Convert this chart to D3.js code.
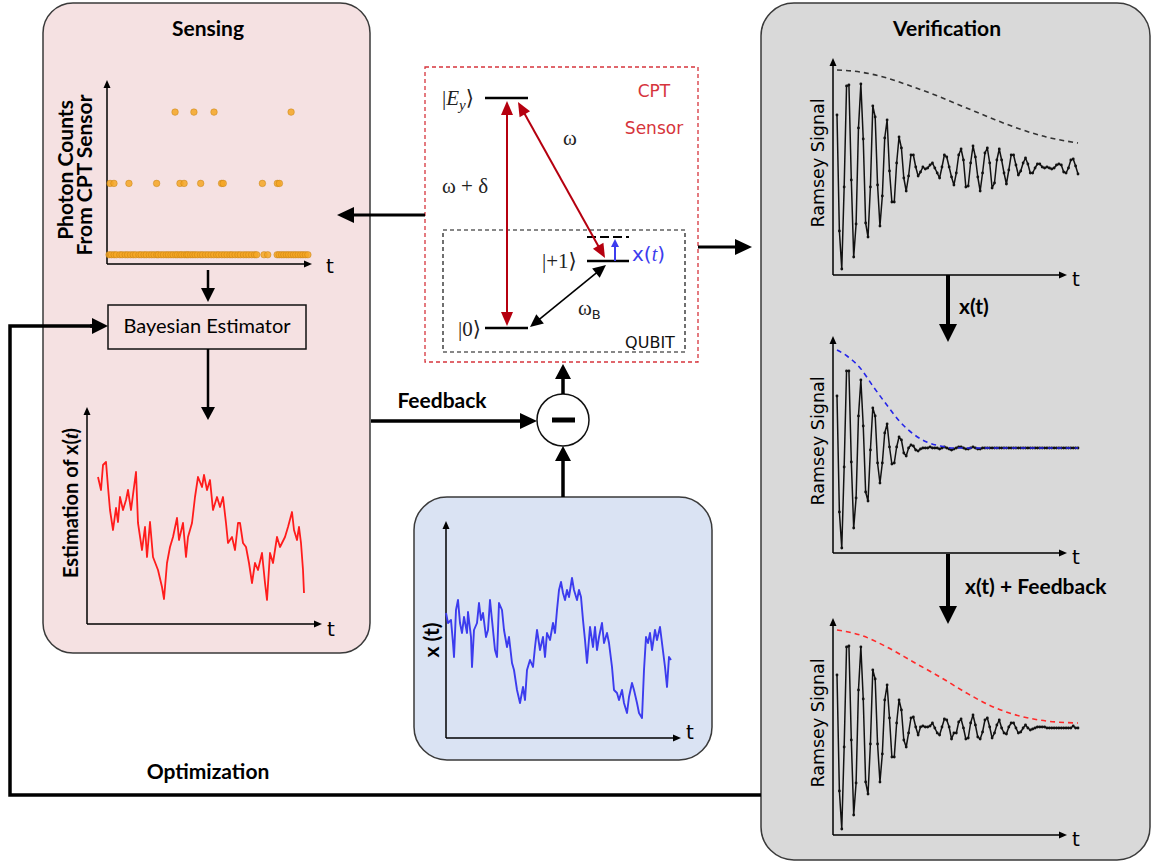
<!DOCTYPE html>
<html>
<head>
<meta charset="utf-8">
<script src="https://cdn.jsdelivr.net/npm/d3@7"></script>
<style>
  body { margin: 0; background: #fff; }
  svg { display: block; }
</style>
</head>
<body>
<svg id="chart" width="1151" height="861"></svg>
<script>
// ---- values ----

// photon arrival times (a.u.), grouped by the count recorded in that bin
const photonTimes0 = [1.0, 2.2, 3.5, 4.6, 6.3, 7.4, 8.9, 10.1, 11.5, 12.8, 14.0, 15.6, 16.7, 18.1, 19.2, 20.6, 21.8,
  23.0, 24.3, 25.1, 26.4, 27.6, 28.9, 30.0, 31.2, 32.3, 33.5, 34.4, 35.6, 36.5, 37.7, 38.8, 39.6, 40.8, 41.9, 43.0,
  44.2, 45.6, 46.7, 48.1, 49.4, 50.8, 52.1, 53.5, 54.6, 56.0, 57.3, 58.6, 60.0, 61.1, 62.5, 63.9, 65.1, 66.6, 67.9,
  69.2, 70.6, 72.0, 73.0, 76.6, 78.4, 83.0, 84.0, 85.2, 86.3, 87.5, 88.6, 89.8, 91.0, 92.1, 93.3, 94.5, 95.6, 96.8, 98.0];
const photonTimes1 = [1.5, 3.4, 10.7, 24.2, 35.6, 37.6, 45.7, 55.9, 56.7, 75.8, 83.1, 84.1];
const photonTimes2 = [33.2, 42.4, 52.2, 89.8];

// Bayesian estimate of x(t) (red trace)
const estimateT = [5.5, 7, 8, 9.5, 10.5, 11.5, 13, 14.5, 15.5, 16.5, 18, 19.5, 20.5, 22, 23.5, 24.5, 25.5, 27.5, 29, 30,
  31.5, 33, 35.5, 37.5, 38.5, 40, 41.5, 43, 45, 46, 48, 49.5, 50.5, 52.5, 54, 55.5, 57.5, 58.5, 60, 61.5, 63, 65, 66.5,
  68, 69.5, 70.5, 72.5, 74, 75.5, 76.5, 78, 79.5, 81, 82.5, 84, 85.5, 87.5, 89, 90, 91.5, 93, 95, 96.5, 99, 100.5,
  102.5, 103.5, 105, 106, 107, 108, 108.5];
const estimateX = [7.35, 6.7, 7.95, 8.1, 6.85, 5.7, 4.7, 5.8, 5.1, 6.35, 5.7, 6.2, 6.7, 5.7, 6.85, 7.6, 5.05, 3.7, 4.85,
  3.35, 5.1, 3.35, 2.7, 1.85, 1.25, 3.05, 3.85, 4.35, 5.3, 4.2, 5.05, 3.35, 4.35, 5.05, 6.35, 7.35, 6.85, 7.45, 6.7,
  7.2, 5.7, 6.35, 5.85, 6.35, 5.05, 4.05, 4.35, 3.7, 5.05, 5.05, 4.05, 3.85, 3.05, 2.05, 3.05, 2.7, 3.55, 2.05, 1.2,
  3.55, 3.05, 4.35, 3.85, 4.35, 4.85, 5.6, 4.7, 4.2, 4.85, 4.05, 2.7, 1.55];

// true drift x(t) (blue trace)
const driftT = [0, 1, 2.5, 3.5, 4, 5, 6, 7, 8, 9, 10.5, 11, 12.5, 13, 14, 15.5, 16.5, 17.5, 18.5, 20, 21, 22, 23, 24.5,
  25.5, 26.5, 28, 29, 30.5, 31.5, 33, 34, 35.5, 37, 38.5, 39.5, 40.5, 42, 43.5, 44.5, 45.5, 47, 48.5, 49.5, 50.5, 52,
  53.5, 54.5, 55.5, 56.5, 57.5, 58.5, 59.5, 60.5, 61.5, 63, 64, 65.5, 66.5, 67.5, 68.5, 69.5, 70.5, 72, 73.5, 74.5,
  75.5, 76.5, 78, 79, 80.5, 81.5, 83, 84, 85.5, 86.5, 88, 89, 90.5, 91.5, 93, 94, 95.5, 96.5, 98, 99, 100, 101, 102,
  103, 104.5, 105.5, 107, 108, 109.5, 110.5, 111.5, 112.5];
const driftX = [6.25, 5.75, 5.9, 4.75, 4.05, 6.4, 6.9, 5.75, 5.25, 6.05, 5.25, 6.3, 5.05, 3.55, 5.4, 5.75, 6.75, 5.9,
  6.25, 5.05, 5.4, 6.9, 5.9, 4.4, 4.05, 6.75, 6.4, 5.4, 4.55, 5.05, 3.75, 3.4, 2.4, 1.75, 2.55, 1.9, 3.4, 3.9, 3.55,
  4.55, 5.4, 4.4, 5.05, 4.05, 5.25, 4.9, 5.75, 5.25, 6.4, 7.4, 7.8, 7.25, 6.9, 7.4, 7.05, 8.0, 7.4, 6.9, 7.4, 7.05,
  5.9, 4.9, 3.75, 5.55, 4.55, 5.55, 4.4, 5.05, 5.75, 4.75, 5.25, 4.75, 3.55, 2.4, 2.25, 1.9, 2.4, 1.75, 1.25, 2.05,
  2.75, 2.4, 1.75, 1.25, 1.0, 3.4, 5.05, 4.75, 5.25, 4.4, 5.4, 4.9, 5.55, 4.75, 3.55, 2.55, 4.05, 3.9];

// Ramsey fringes, one value per equally spaced sample
const ramseyIdeal = [0.53, -0.63, -1.01, -0.19, 0.82, 0.83, -0.12, -0.89, -0.56, 0.40,
  0.84, 0.29, -0.55, -0.69, -0.19, 0.62, 0.51, -0.17, -0.58, -0.28,
  0.30, 0.48, -0.03, -0.34, -0.34, 0.05, 0.31, 0.20, -0.10, -0.23,
  -0.08, 0.13, 0.13, 0.01, -0.08, -0.04, 0.01, -0.01, 0.00, 0.03,
  0.05, 0.00, -0.05, -0.10, 0.01, 0.13, 0.11, 0.01, -0.09, -0.17,
  -0.05, 0.13, 0.19, 0.08, -0.19, -0.18, 0.05, 0.22, 0.11, -0.09,
  -0.23, -0.05, 0.15, 0.20, 0.05, -0.20, -0.15, 0.08, 0.19, 0.08,
  -0.05, -0.16, -0.02, 0.13, 0.13, 0.03, -0.07, -0.03, 0.05, 0.10,
  0.04, -0.05, -0.05, 0.00, 0.04, 0.04, 0.01, 0.00, 0.01, 0.00,
  -0.01, 0.00, 0.03, 0.04, 0.03, -0.04, -0.05, 0.00, 0.08, 0.09,
  0.02, -0.06];
const ramseyNoisy = [0.52, -0.64, -1.00, -0.19, 0.77, 0.77, -0.14, -0.80, -0.50, 0.32,
  0.68, 0.22, -0.44, -0.53, -0.02, 0.40, 0.32, -0.15, -0.35, -0.15,
  0.15, 0.24, 0.01, -0.16, -0.15, 0.01, 0.11, 0.08, -0.05, -0.08,
  0.00, 0.03, 0.02, -0.02, -0.03, -0.01, 0.00, 0.00, 0.00, 0.01,
  0.00, 0.00, 0.00, -0.01, 0.00, 0.01, 0.00, -0.01, -0.02, -0.01,
  0.00, 0.01, 0.01, 0.00, -0.01, -0.01, 0.00, 0.01, 0.00, -0.01,
  -0.01, 0.00, 0.00, 0.00, 0.00, 0.00, 0.00, 0.00, 0.00, 0.00,
  0.00, 0.00, 0.00, 0.00, 0.00, 0.00, 0.00, 0.00, 0.00, 0.00,
  0.00, 0.00, 0.00, 0.00, 0.00, 0.00, 0.00, 0.00, 0.00, 0.00,
  0.00, 0.00, 0.00, 0.00, 0.00, 0.00, 0.00, 0.00, 0.00, 0.00,
  0.00, 0.00];
const ramseyFeedback = [0.53, -0.63, -1.01, -0.19, 0.81, 0.82, -0.12, -0.87, -0.55, 0.38,
  0.81, 0.29, -0.54, -0.66, -0.16, 0.58, 0.49, -0.16, -0.54, -0.26,
  0.28, 0.43, 0.10, -0.29, -0.29, 0.05, 0.28, 0.18, -0.12, -0.19,
  -0.05, 0.10, 0.11, 0.01, -0.07, 0.01, 0.02, 0.01, 0.01, 0.02,
  0.05, 0.00, -0.05, -0.07, 0.01, 0.09, 0.08, 0.01, -0.11, -0.05,
  -0.05, 0.06, 0.09, 0.00, -0.11, -0.10, 0.05, 0.13, 0.03, -0.09,
  -0.11, -0.04, 0.08, 0.10, 0.01, -0.10, -0.05, 0.03, 0.08, 0.00,
  -0.05, -0.06, 0.01, 0.05, 0.05, 0.00, -0.05, -0.04, 0.00, 0.03,
  0.00, -0.02, -0.01, 0.00, 0.01, 0.01, 0.01, 0.01, 0.00, 0.00,
  0.00, 0.00, 0.00, 0.00, 0.00, 0.00, 0.00, 0.00, 0.00, 0.02,
  0.00, 0.00];

// dashed decay envelopes (sample index -> amplitude)
const idealEnvT = [0, 9.7, 20.9, 32, 43.2, 54.3, 65.5, 76.6, 87.7, 101];
const idealEnv = [0.98, 0.96, 0.90, 0.81, 0.71, 0.60, 0.49, 0.39, 0.31, 0.25];
const noisyEnvT = [0, 4.2, 9.7, 15.3, 20.9, 26.5, 32, 37.6, 43.2, 48.7, 54.3, 101];
const noisyEnv = [0.98, 0.92, 0.80, 0.61, 0.43, 0.26, 0.14, 0.06, 0.02, 0.0, 0.0, 0.0];
const feedbackEnvT = [0, 9.7, 20.9, 32, 43.2, 54.3, 65.5, 76.6, 87.7, 101];
const feedbackEnv = [0.98, 0.93, 0.81, 0.66, 0.51, 0.35, 0.21, 0.12, 0.07, 0.05];

// ---- drawing ----
const svg = d3.select('#chart');
const BOLD = "Lato, 'Open Sans', sans-serif";
const MATH = "'Liberation Serif', 'DejaVu Serif', serif";
const PLAIN = "'DejaVu Sans', sans-serif";

// line with a filled triangular head (optionally at both ends)
function arrow(g, [x1, y1], [x2, y2], { width = 3, head = 16, half = 8, color = '#000', both = false } = {}) {
  const len = Math.hypot(x2 - x1, y2 - y1);
  const ux = (x2 - x1) / len, uy = (y2 - y1) / len;
  const sx = both ? x1 + ux * head * 0.8 : x1, sy = both ? y1 + uy * head * 0.8 : y1;
  g.append('line')
    .attr('x1', sx).attr('y1', sy)
    .attr('x2', x2 - ux * head * 0.8).attr('y2', y2 - uy * head * 0.8)
    .attr('stroke', color).attr('stroke-width', width);
  const tri = (tx, ty, vx, vy) =>
    `M${tx},${ty}L${tx - vx * head - vy * half},${ty - vy * head + vx * half}` +
    `L${tx - vx * head + vy * half},${ty - vy * head - vx * half}Z`;
  g.append('path').attr('d', tri(x2, y2, ux, uy)).attr('fill', color);
  if (both) g.append('path').attr('d', tri(x1, y1, -ux, -uy)).attr('fill', color);
}

function axes(g, x, y) {
  const [x0, x1] = x.range(), [y0, y1] = y.range();
  arrow(g, [x0, y0], [x1, y0], { width: 1.5, head: 8, half: 3.5 });
  arrow(g, [x0, y0], [x0, y1], { width: 1.5, head: 8, half: 3.5 });
}

function label(g, x, y, text, { size = 21, family = BOLD, weight = 700, anchor = 'middle', fill = '#000', rotate = 0 } = {}) {
  return g.append('text')
    .attr('transform', `translate(${x},${y})${rotate ? ` rotate(${rotate})` : ''}`)
    .attr('text-anchor', anchor)
    .attr('font-family', family).attr('font-weight', weight).attr('font-size', size)
    .attr('fill', fill)
    .text(text);
}

// panels
const bg = svg.append('g');
bg.append('rect').attr('x', 43).attr('y', 3).attr('width', 327).attr('height', 650).attr('rx', 30)
  .attr('fill', '#f5e1e2').attr('stroke', '#3a3a3a').attr('stroke-width', 1.5);
bg.append('rect').attr('x', 761).attr('y', 3).attr('width', 389).attr('height', 857).attr('rx', 33)
  .attr('fill', '#d9d9d9').attr('stroke', '#3a3a3a').attr('stroke-width', 1.5);
bg.append('rect').attr('x', 414).attr('y', 497).attr('width', 298).attr('height', 263).attr('rx', 33)
  .attr('fill', '#dae3f3').attr('stroke', '#3a3a3a').attr('stroke-width', 1.5);

label(svg, 208, 36, 'Sensing');
label(svg, 947, 36, 'Verification');

// -- photon counts scatter
const photon = svg.append('g');
const px = d3.scaleLinear().domain([0, 100]).range([107, 312]);
const py = d3.scaleLinear().domain([-0.13, 2.45]).range([264, 80]);
axes(photon, px, py);
const photonPts = [
  ...photonTimes0.map((t) => [t, 0]),
  ...photonTimes1.map((t) => [t, 1]),
  ...photonTimes2.map((t) => [t, 2]),
];
photon.selectAll('circle').data(photonPts).join('circle')
  .attr('cx', (d) => px(d[0])).attr('cy', (d) => py(d[1])).attr('r', 3.3)
  .attr('fill', '#f5a623').attr('fill-opacity', 0.85)
  .attr('stroke', '#b87406').attr('stroke-opacity', 0.55).attr('stroke-width', 0.7);
label(photon, 73, 170, 'Photon Counts', { rotate: -90 });
label(photon, 92, 175, 'From CPT Sensor', { rotate: -90 });
label(photon, 326, 273, 't', { family: PLAIN, weight: 400, size: 20, anchor: 'start' });

// -- Bayesian estimator
arrow(svg, [208, 270], [208, 302], { width: 2.5, head: 14, half: 7 });
svg.append('rect').attr('x', 108).attr('y', 305).attr('width', 198).attr('height', 44)
  .attr('fill', 'none').attr('stroke', '#111').attr('stroke-width', 1.5);
label(svg, 207, 333, 'Bayesian Estimator', { weight: 400, size: 20 });
arrow(svg, [208, 349], [208, 420], { width: 2.5, head: 13, half: 7 });

// -- estimation of x(t)
const est = svg.append('g');
const ex = d3.scaleLinear().domain([0, 117.5]).range([87, 322]);
const ey = d3.scaleLinear().domain([0, 10.85]).range([624, 407]);
axes(est, ex, ey);
est.append('path').datum(d3.zip(estimateT, estimateX))
  .attr('fill', 'none').attr('stroke', '#ff1c1c').attr('stroke-width', 1.8).attr('stroke-linejoin', 'round')
  .attr('d', d3.line().x((d) => ex(d[0])).y((d) => ey(d[1])));
const estLabel = label(est, 78, 503, 'Estimation of x(', { rotate: -90, size: 20 });
estLabel.append('tspan').attr('font-family', MATH).attr('font-style', 'italic').text('t');
estLabel.append('tspan').text(')');
label(est, 327, 636, 't', { family: PLAIN, weight: 400, size: 20, anchor: 'start' });

// -- true drift x(t)
const drift = svg.append('g');
const dx = d3.scaleLinear().domain([0, 117.5]).range([446, 681]);
const dy = d3.scaleLinear().domain([0, 10.85]).range([738, 521]);
axes(drift, dx, dy);
drift.append('path').datum(d3.zip(driftT, driftX))
  .attr('fill', 'none').attr('stroke', '#3c3cee').attr('stroke-width', 1.9).attr('stroke-linejoin', 'round')
  .attr('d', d3.line().x((d) => dx(d[0])).y((d) => dy(d[1])));
label(drift, 439, 640, 'x (t)', { rotate: -90, size: 21 });
label(drift, 686, 739, 't', { family: PLAIN, weight: 400, size: 20, anchor: 'start' });

// -- CPT sensor level scheme
const cpt = svg.append('g');
cpt.append('rect').attr('x', 425).attr('y', 67).attr('width', 273).attr('height', 295)
  .attr('fill', 'none').attr('stroke', '#d6343c').attr('stroke-width', 1.3).attr('stroke-dasharray', '4,3');
cpt.append('rect').attr('x', 443).attr('y', 230).attr('width', 242).attr('height', 122)
  .attr('fill', 'none').attr('stroke', '#111').attr('stroke-width', 1.2).attr('stroke-dasharray', '4,3');
[[485, 528, 98], [485, 528, 328], [587, 629, 261]].forEach(([a, b, y]) =>
  cpt.append('line').attr('x1', a).attr('x2', b).attr('y1', y).attr('y2', y)
    .attr('stroke', '#000').attr('stroke-width', 2.5));
cpt.append('line').attr('x1', 587).attr('x2', 629).attr('y1', 237).attr('y2', 237)
  .attr('stroke', '#000').attr('stroke-width', 2).attr('stroke-dasharray', '9,4');
arrow(cpt, [507, 101], [507, 326], { width: 2, head: 14, half: 6, color: '#b5000f', both: true });
arrow(cpt, [518, 102], [605, 258], { width: 2, head: 14, half: 6, color: '#b5000f', both: true });
arrow(cpt, [606, 265], [530, 327], { width: 1.6, head: 13, half: 6, color: '#000', both: true });
arrow(cpt, [615, 261], [615, 239], { width: 2, head: 8, half: 4, color: '#3c3cee' });

const ket = (x, y, parts) => {
  const t = cpt.append('text').attr('x', x).attr('y', y)
    .attr('font-family', MATH).attr('font-size', 21).attr('fill', '#222');
  parts.forEach(([s, opt = {}]) => {
    const ts = t.append('tspan').text(s);
    if (opt.italic) ts.attr('font-style', 'italic');
    if (opt.size) ts.attr('font-size', opt.size);
    if (opt.dy) ts.attr('dy', opt.dy);
    if (opt.family) ts.attr('font-family', opt.family);
  });
  return t;
};
ket(442, 105, [['|'], ['E', { italic: true }], ['y', { italic: true, size: 15, dy: 5 }], ['⟩', { dy: -5 }]]);
ket(542, 268, [['|+1⟩']]);
ket(458, 336, [['|0⟩']]);
ket(563, 145, [['ω']]);
ket(442, 193, [['ω + δ']]);
ket(578, 315, [['ω'], ['B', { size: 13, dy: 4, family: PLAIN }]]);
const xt = cpt.append('text').attr('x', 632).attr('y', 261)
  .attr('font-family', PLAIN).attr('font-size', 20).attr('fill', '#3c3cee');
xt.append('tspan').text('x(');
xt.append('tspan').attr('font-family', MATH).attr('font-style', 'italic').text('t');
xt.append('tspan').text(')');
label(cpt, 654, 97, 'CPT', { family: PLAIN, weight: 400, size: 17, fill: '#d6343c' });
label(cpt, 654, 134, 'Sensor', { family: PLAIN, weight: 400, size: 17, fill: '#d6343c' });
label(cpt, 650, 348, 'QUBIT', { family: PLAIN, weight: 400, size: 16, fill: '#111' });

// -- subtraction node
svg.append('circle').attr('cx', 563).attr('cy', 420).attr('r', 26)
  .attr('fill', '#fff').attr('stroke', '#111').attr('stroke-width', 1.5);
svg.append('line').attr('x1', 552).attr('x2', 575).attr('y1', 420).attr('y2', 420)
  .attr('stroke', '#000').attr('stroke-width', 5);

// -- Ramsey panels
const ramseyPanels = [
  { signal: ramseyIdeal, envT: idealEnvT, env: idealEnv, color: '#333', y0: 275, lo: -1.07 },
  { signal: ramseyNoisy, envT: noisyEnvT, env: noisyEnv, color: '#2525e8', y0: 553, lo: -1.05 },
  { signal: ramseyFeedback, envT: feedbackEnvT, env: feedbackEnv, color: '#ff2a2a', y0: 835, lo: -1.07 },
];
ramseyPanels.forEach((p) => {
  const g = svg.append('g');
  const x = d3.scaleLinear().domain([0, p.signal.length - 1]).range([837, 1078]);
  const y = d3.scaleLinear().domain([p.lo, p.lo + 2.17]).range([p.y0, p.y0 - 217]);
  arrow(g, [833, p.y0], [1067, p.y0], { width: 1.5, head: 8, half: 3.5 });
  arrow(g, [833, p.y0], [833, p.y0 - 217], { width: 1.5, head: 8, half: 3.5 });
  const pts = p.signal.map((v, i) => [i, v]);
  g.append('path').datum(pts)
    .attr('fill', 'none').attr('stroke', '#111').attr('stroke-width', 1.5).attr('stroke-linejoin', 'round')
    .attr('d', d3.line().x((d) => x(d[0])).y((d) => y(d[1])));
  g.selectAll('circle').data(pts).join('circle')
    .attr('cx', (d) => x(d[0])).attr('cy', (d) => y(d[1])).attr('r', 1.4).attr('fill', '#111');
  g.append('path').datum(d3.zip(p.envT, p.env))
    .attr('fill', 'none').attr('stroke', p.color).attr('stroke-width', 1.6).attr('stroke-dasharray', '5,4')
    .attr('d', d3.line().x((d) => x(d[0])).y((d) => y(d[1])).curve(d3.curveMonotoneX));
  label(g, 824, p.y0 - 112, 'Ramsey Signal', { family: PLAIN, weight: 400, size: 17.5, rotate: -90 });
  label(g, 1072, p.y0 + 11, 't', { family: PLAIN, weight: 400, size: 20, anchor: 'start' });
});

// -- connectors
arrow(svg, [425, 215], [337, 215], { width: 3, head: 17, half: 8 });
arrow(svg, [698, 247], [752, 247], { width: 3, head: 17, half: 8 });
arrow(svg, [371, 421], [537, 421], { width: 3.5, head: 17, half: 8 });
arrow(svg, [563, 394], [563, 364], { width: 3.5, head: 15, half: 8 });
arrow(svg, [563, 497], [563, 446], { width: 3.5, head: 15, half: 8 });
label(svg, 442, 408, 'Feedback');

arrow(svg, [948, 275], [948, 342], { width: 4, head: 18, half: 9 });
label(svg, 959, 314, 'x(t)', { anchor: 'start' });
arrow(svg, [948, 554], [948, 624], { width: 4, head: 18, half: 9 });
label(svg, 965, 594, 'x(t) + Feedback', { anchor: 'start' });

// optimisation loop back into the estimator
svg.append('path').attr('d', 'M761,795H10V326H92')
  .attr('fill', 'none').attr('stroke', '#000').attr('stroke-width', 3.5);
arrow(svg, [90, 326], [108, 326], { width: 3.5, head: 16, half: 8 });
label(svg, 208, 779, 'Optimization');
</script>
</body>
</html>
